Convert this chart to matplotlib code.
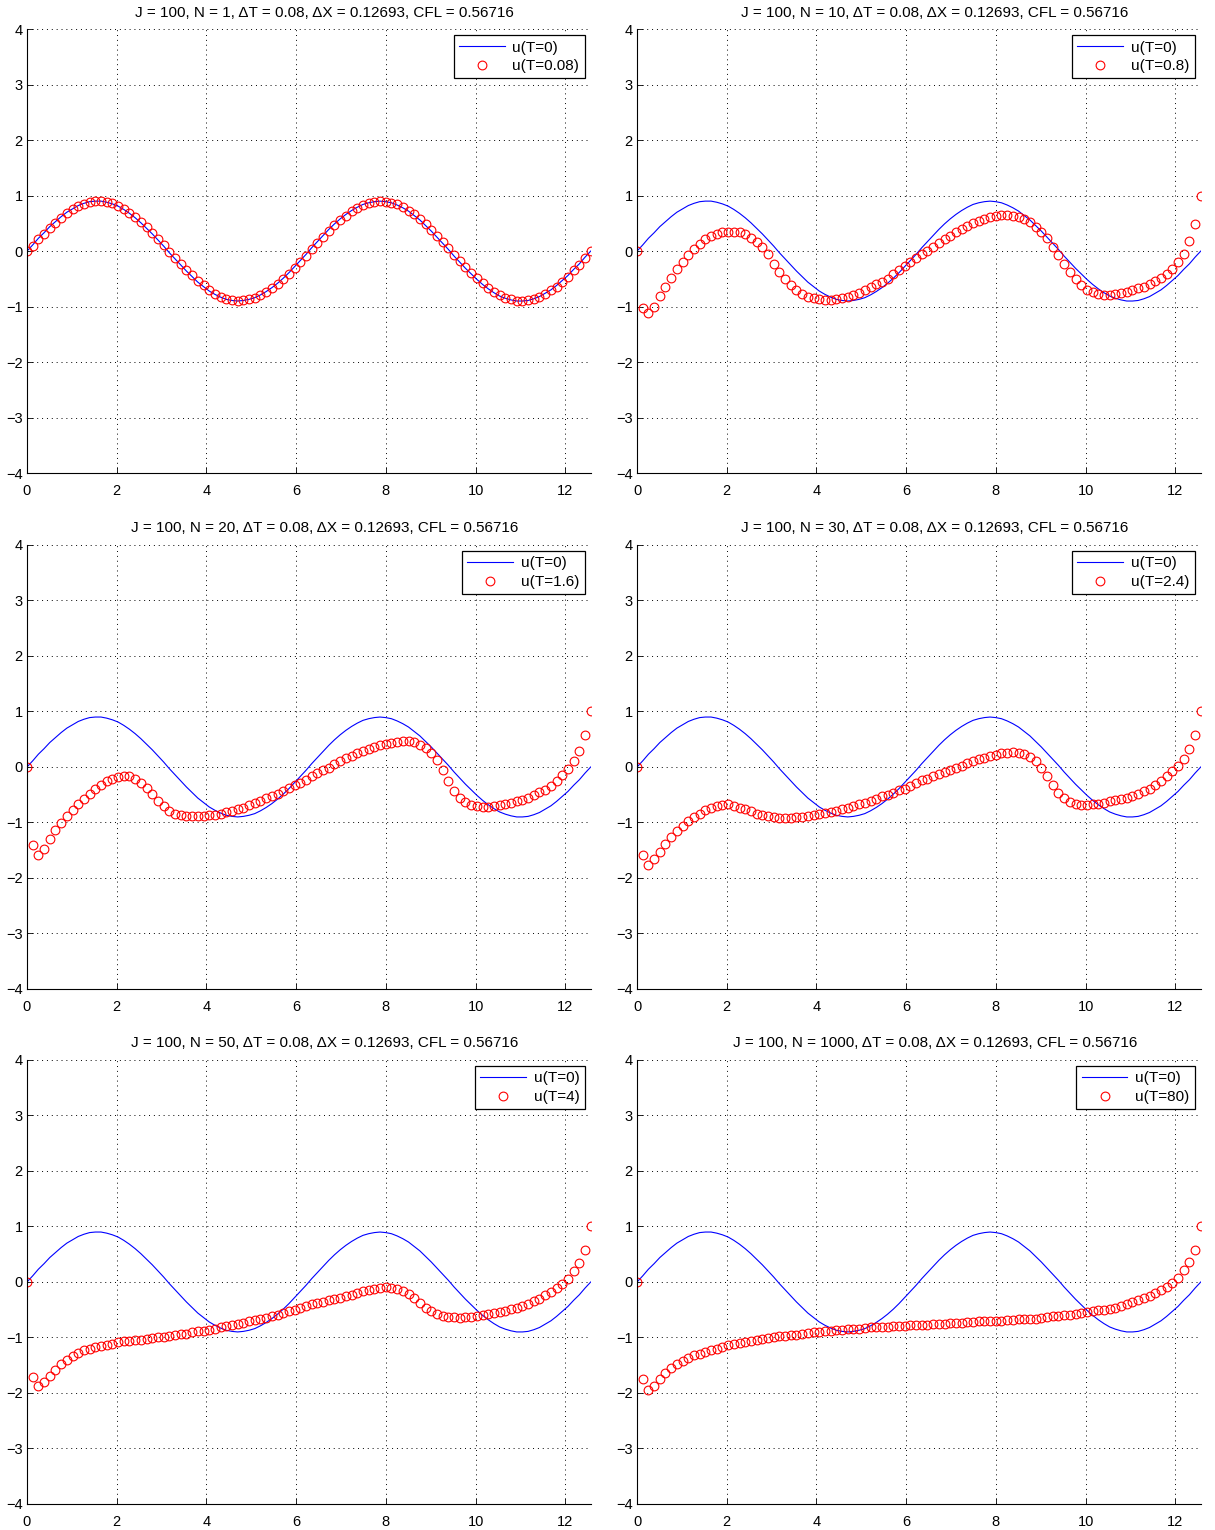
import numpy as np
import matplotlib
matplotlib.use('Agg')
import matplotlib.pyplot as plt

plt.rcParams['font.family'] = ['Liberation Sans', 'DejaVu Sans']

# grid parameters (from the panel titles)
J = 100
dT = 0.08
dX = 0.12693
CFL = 0.56716
x = np.linspace(0, 4 * np.pi, J)

steps = [1, 10, 20, 30, 50, 1000]
times = ['0.08', '0.8', '1.6', '2.4', '4', '80']

# initial profile u(T=0)
u0 = [0.00, 0.11, 0.23, 0.33, 0.44, 0.53, 0.62, 0.70, 0.76, 0.82,
      0.86, 0.89, 0.90, 0.90, 0.88, 0.85, 0.81, 0.75, 0.68, 0.60,
      0.51, 0.41, 0.31, 0.20, 0.09, -0.03, -0.14, -0.25, -0.36, -0.46,
      -0.56, -0.64, -0.72, -0.78, -0.83, -0.87, -0.89, -0.90, -0.89, -0.87,
      -0.84, -0.79, -0.73, -0.66, -0.58, -0.49, -0.39, -0.28, -0.17, -0.06,
      0.06, 0.17, 0.28, 0.39, 0.49, 0.58, 0.66, 0.73, 0.79, 0.84,
      0.87, 0.89, 0.90, 0.89, 0.87, 0.83, 0.78, 0.72, 0.64, 0.56,
      0.46, 0.36, 0.25, 0.14, 0.03, -0.09, -0.20, -0.31, -0.41, -0.51,
      -0.60, -0.68, -0.75, -0.81, -0.85, -0.88, -0.90, -0.90, -0.89, -0.86,
      -0.82, -0.76, -0.70, -0.62, -0.53, -0.44, -0.33, -0.23, -0.11, 0.00]

# numerical solution after N steps
u_n1 = [0.00, 0.09, 0.21, 0.31, 0.42, 0.51, 0.60, 0.68, 0.75, 0.81,
        0.85, 0.88, 0.90, 0.90, 0.88, 0.86, 0.82, 0.76, 0.69, 0.62,
        0.53, 0.43, 0.33, 0.22, 0.11, -0.01, -0.12, -0.23, -0.34, -0.44,
        -0.54, -0.62, -0.70, -0.77, -0.82, -0.86, -0.89, -0.90, -0.89, -0.87,
        -0.85, -0.80, -0.74, -0.67, -0.60, -0.51, -0.41, -0.30, -0.19, -0.08,
        0.04, 0.15, 0.26, 0.37, 0.47, 0.56, 0.64, 0.72, 0.78, 0.83,
        0.86, 0.89, 0.90, 0.89, 0.87, 0.84, 0.79, 0.73, 0.66, 0.58,
        0.48, 0.38, 0.27, 0.16, 0.05, -0.07, -0.18, -0.29, -0.39, -0.49,
        -0.58, -0.66, -0.74, -0.80, -0.84, -0.87, -0.90, -0.90, -0.89, -0.87,
        -0.83, -0.77, -0.71, -0.64, -0.55, -0.46, -0.35, -0.25, -0.13, 0.00]

u_n10 = [0.00, -1.02, -1.11, -1.00, -0.81, -0.65, -0.48, -0.32, -0.19, -0.07,
         0.04, 0.13, 0.21, 0.27, 0.31, 0.34, 0.35, 0.35, 0.34, 0.30,
         0.24, 0.16, 0.07, -0.06, -0.24, -0.37, -0.51, -0.62, -0.71, -0.77,
         -0.82, -0.85, -0.87, -0.88, -0.88, -0.87, -0.85, -0.82, -0.79, -0.75,
         -0.70, -0.65, -0.60, -0.55, -0.50, -0.42, -0.35, -0.27, -0.19, -0.13,
         -0.05, 0.01, 0.08, 0.15, 0.21, 0.28, 0.34, 0.39, 0.45, 0.50,
         0.55, 0.58, 0.61, 0.64, 0.65, 0.65, 0.64, 0.62, 0.58, 0.52,
         0.44, 0.35, 0.23, 0.08, -0.07, -0.24, -0.38, -0.51, -0.62, -0.70,
         -0.74, -0.77, -0.79, -0.79, -0.78, -0.76, -0.73, -0.70, -0.67, -0.64,
         -0.59, -0.54, -0.49, -0.42, -0.33, -0.20, -0.05, 0.18, 0.49, 1.00]

u_n20 = [0.00, -1.41, -1.58, -1.47, -1.30, -1.14, -1.01, -0.88, -0.77, -0.67,
         -0.58, -0.48, -0.40, -0.32, -0.26, -0.22, -0.18, -0.16, -0.17, -0.21,
         -0.28, -0.38, -0.48, -0.61, -0.71, -0.79, -0.84, -0.87, -0.88, -0.89,
         -0.89, -0.88, -0.87, -0.86, -0.84, -0.82, -0.79, -0.76, -0.73, -0.69,
         -0.65, -0.61, -0.56, -0.52, -0.48, -0.43, -0.38, -0.33, -0.28, -0.23,
         -0.17, -0.11, -0.06, -0.01, 0.05, 0.11, 0.16, 0.20, 0.25, 0.28,
         0.32, 0.36, 0.39, 0.42, 0.44, 0.45, 0.46, 0.46, 0.45, 0.40,
         0.35, 0.26, 0.12, -0.05, -0.26, -0.43, -0.55, -0.63, -0.68, -0.71,
         -0.72, -0.72, -0.71, -0.69, -0.67, -0.65, -0.62, -0.59, -0.55, -0.50,
         -0.45, -0.41, -0.34, -0.25, -0.15, -0.04, 0.11, 0.29, 0.57, 1.00]

u_n30 = [0.00, -1.59, -1.76, -1.65, -1.53, -1.38, -1.26, -1.16, -1.07, -0.98,
         -0.91, -0.85, -0.78, -0.73, -0.70, -0.68, -0.67, -0.70, -0.73, -0.76,
         -0.80, -0.84, -0.87, -0.89, -0.91, -0.92, -0.92, -0.92, -0.91, -0.90,
         -0.88, -0.87, -0.85, -0.83, -0.81, -0.79, -0.76, -0.74, -0.70, -0.67,
         -0.64, -0.61, -0.57, -0.53, -0.50, -0.46, -0.42, -0.39, -0.34, -0.29,
         -0.24, -0.21, -0.17, -0.13, -0.09, -0.05, -0.01, 0.02, 0.07, 0.10,
         0.14, 0.17, 0.20, 0.22, 0.25, 0.26, 0.27, 0.25, 0.24, 0.18,
         0.10, -0.01, -0.17, -0.33, -0.47, -0.56, -0.63, -0.66, -0.68, -0.68,
         -0.67, -0.66, -0.64, -0.62, -0.60, -0.58, -0.55, -0.52, -0.48, -0.44,
         -0.39, -0.33, -0.25, -0.17, -0.07, 0.02, 0.15, 0.32, 0.58, 1.00]

u_n50 = [0.00, -1.72, -1.88, -1.80, -1.69, -1.58, -1.48, -1.40, -1.33, -1.28,
         -1.23, -1.20, -1.17, -1.15, -1.13, -1.11, -1.09, -1.07, -1.06, -1.05,
         -1.04, -1.02, -1.01, -1.00, -0.99, -0.97, -0.96, -0.94, -0.93, -0.91,
         -0.89, -0.88, -0.86, -0.84, -0.81, -0.80, -0.78, -0.75, -0.73, -0.71,
         -0.69, -0.66, -0.64, -0.61, -0.59, -0.55, -0.53, -0.50, -0.47, -0.43,
         -0.40, -0.38, -0.36, -0.33, -0.30, -0.28, -0.25, -0.23, -0.20, -0.17,
         -0.14, -0.12, -0.11, -0.09, -0.10, -0.12, -0.16, -0.22, -0.29, -0.37,
         -0.46, -0.52, -0.57, -0.61, -0.63, -0.63, -0.64, -0.63, -0.63, -0.61,
         -0.60, -0.58, -0.56, -0.54, -0.52, -0.49, -0.46, -0.43, -0.39, -0.35,
         -0.30, -0.23, -0.18, -0.11, -0.04, 0.05, 0.19, 0.35, 0.58, 1.00]

u_n1000 = [0.00, -1.75, -1.95, -1.87, -1.75, -1.64, -1.55, -1.48, -1.42, -1.37,
           -1.32, -1.29, -1.26, -1.23, -1.20, -1.17, -1.14, -1.12, -1.10, -1.08,
           -1.07, -1.05, -1.03, -1.01, -1.00, -0.98, -0.97, -0.96, -0.95, -0.93,
           -0.92, -0.91, -0.90, -0.89, -0.88, -0.87, -0.86, -0.85, -0.84, -0.84,
           -0.83, -0.82, -0.82, -0.81, -0.81, -0.80, -0.80, -0.79, -0.78, -0.78,
           -0.77, -0.77, -0.76, -0.75, -0.75, -0.74, -0.74, -0.73, -0.72, -0.72,
           -0.71, -0.71, -0.71, -0.70, -0.70, -0.69, -0.68, -0.67, -0.67, -0.67,
           -0.66, -0.64, -0.63, -0.62, -0.61, -0.60, -0.59, -0.57, -0.55, -0.54,
           -0.52, -0.51, -0.50, -0.48, -0.46, -0.43, -0.40, -0.36, -0.33, -0.29,
           -0.25, -0.20, -0.15, -0.09, -0.02, 0.08, 0.21, 0.36, 0.58, 1.00]

solutions = [u_n1, u_n10, u_n20, u_n30, u_n50, u_n1000]

fig = plt.figure(figsize=(12.15, 15.3), dpi=100)

# axes boxes in figure fractions (left, bottom, width, height)
lefts = [0.0222, 0.5243]
bottoms = [0.6908, 0.3536, 0.0170]
w, h = 0.4640, 0.2902

for i, (n, t, u) in enumerate(zip(steps, times, solutions)):
    ax = fig.add_axes([lefts[i % 2], bottoms[i // 2], w, h])
    ax.plot(x, u0, '-', color='#0000ff', linewidth=0.8, label='u(T=0)')
    ax.plot(x, u, 'o', color='#ff0000', markerfacecolor='none',
            markersize=6.3, markeredgewidth=0.8, label='u(T=' + t + ')')
    ax.set_xlim(0, 4 * np.pi)
    ax.set_ylim(-4, 4)
    ax.set_xticks(range(0, 13, 2))
    ax.set_yticks(range(-4, 5))
    ax.set_yticklabels(['\u22124', '\u22123', '\u22122', '\u22121', '0',
                        '1', '2', '3', '4'])
    ax.tick_params(direction='in', length=4, width=0.6, labelsize=10.5)
    ax.tick_params(axis='x', pad=8)
    ax.tick_params(axis='y', pad=3)
    ax.grid(True, linestyle=(0, (1, 4)), color='k', linewidth=0.7)
    for s in ['top', 'right']:
        ax.spines[s].set_visible(False)
    for s in ['left', 'bottom']:
        ax.spines[s].set_linewidth(0.8)
    ttl = ax.set_title('J = %d, N = %d, \u0394T = %g, \u0394X = %g, CFL = %g'
                       % (J, n, dT, dX, CFL), fontsize=11, pad=9)
    ttl.set_x(0.528)
    leg = ax.legend(loc='upper right', fontsize=11, fancybox=False,
                    edgecolor='k', framealpha=1, handlelength=3.0,
                    borderaxespad=0.4, borderpad=0.35, labelspacing=0.3,
                    handletextpad=0.5)
    leg.get_frame().set_linewidth(0.9)

fig.savefig('out.png', dpi=100)
